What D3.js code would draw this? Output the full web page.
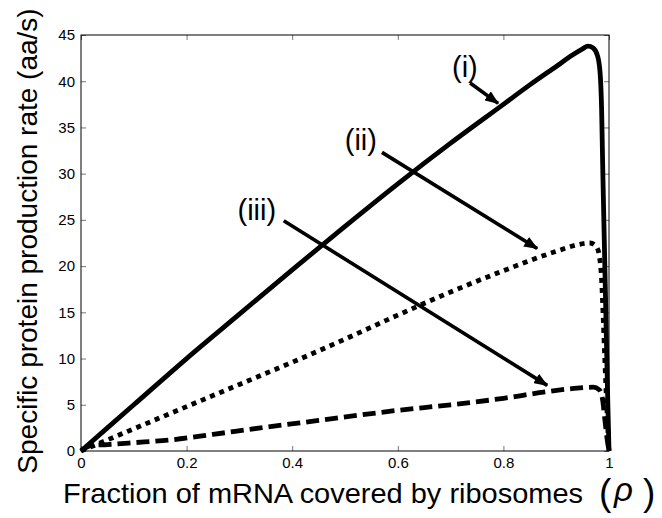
<!DOCTYPE html>
<html>
<head>
<meta charset="utf-8">
<script src="https://cdn.jsdelivr.net/npm/d3@7"></script>
<style>
  html, body { margin: 0; padding: 0; background: #fff; }
  svg { display: block; }
  text { font-family: "Liberation Sans", Arial, Helvetica, sans-serif; fill: #000; }
</style>
</head>
<body>
<svg id="chart" width="662" height="518"></svg>
<script>
// Fraction of mRNA covered by ribosomes (rho) and production rates (aa/s)
const rhoI   = [0, 0.1, 0.2, 0.3, 0.4, 0.5, 0.6, 0.7, 0.8, 0.85, 0.9, 0.93, 0.95, 0.96, 0.97, 0.978, 0.983, 0.986, 0.988, 0.991, 0.994, 0.997, 1.0];
const rateI  = [0, 5.0, 10.0, 14.8, 19.6, 24.3, 28.9, 33.3, 37.5, 39.6, 41.6, 42.8, 43.5, 43.8, 43.6, 42.8, 41.0, 37.0, 31.0, 23.0, 15.0, 7.0, 0];

const rhoII  = [0, 0.1, 0.2, 0.3, 0.4, 0.5, 0.6, 0.7, 0.8, 0.9, 0.94, 0.964, 0.976, 0.982, 0.986, 0.989, 0.992, 0.996, 1.0];
const rateII = [0, 2.4, 4.8, 7.2, 9.6, 12.1, 14.7, 17.2, 19.5, 21.6, 22.3, 22.5, 22.1, 21.0, 18.5, 14.5, 10.0, 4.5, 0];

const rhoIII  = [0, 0.02, 0.05, 0.1, 0.17, 0.25, 0.34, 0.45, 0.6, 0.7, 0.8, 0.88, 0.94, 0.97, 0.982, 0.988, 0.992, 0.996, 1.0];
const rateIII = [0, 0.6, 0.7, 0.9, 1.2, 1.8, 2.5, 3.3, 4.4, 5.0, 5.7, 6.4, 6.8, 6.9, 6.6, 5.5, 3.5, 1.5, 0];

const xTicks = [0, 0.2, 0.4, 0.6, 0.8, 1];
const xTickLabels = ["0", "0.2", "0.4", "0.6", "0.8", "1"];
const yTicks = [0, 5, 10, 15, 20, 25, 30, 35, 40, 45];

// Curve labels: text, anchor point of the label, and the (rho, rate) the arrow points to
const labelNames = ["(i)", "(ii)", "(iii)"];
const labelAt    = [[0.727, 40.5], [0.53, 32.6], [0.333, 25.0]];
const arrowFrom  = [[0.737, 39.8], [0.57, 32.3], [0.384, 24.9]];
const arrowTo    = [[0.79, 37.6], [0.864, 21.9], [0.883, 7.1]];

const margin = { left: 81, right: 53, top: 35, bottom: 67 };
const W = 662, H = 518;
const svg = d3.select("#chart");

const x = d3.scaleLinear().domain([0, 1]).range([margin.left, W - margin.right]);
const y = d3.scaleLinear().domain([0, 45]).range([H - margin.bottom, margin.top]);

const defs = svg.append("defs");
defs.append("marker")
  .attr("id", "head")
  .attr("viewBox", "0 0 14 11")
  .attr("refX", 13).attr("refY", 5.5)
  .attr("markerWidth", 14).attr("markerHeight", 11)
  .attr("markerUnits", "userSpaceOnUse")
  .attr("orient", "auto")
  .append("path").attr("d", "M0,0 L14,5.5 L0,11 Z").attr("fill", "#000");

// Axes box with inward ticks on all sides
const tickLen = 5;
const axisBottom = d3.axisBottom(x).tickValues(xTicks).tickSize(-tickLen).tickPadding(6)
  .tickFormat((d, i) => xTickLabels[i]);
const axisTop = d3.axisTop(x).tickValues(xTicks).tickSize(-tickLen).tickFormat("");
const axisLeft = d3.axisLeft(y).tickValues(yTicks).tickSize(-tickLen).tickPadding(6);
const axisRight = d3.axisRight(y).tickValues(yTicks).tickSize(-tickLen).tickFormat("");

function styleAxis(g, size) {
  g.select(".domain").remove();
  g.selectAll(".tick line").attr("stroke", "#777").attr("stroke-width", 1);
  g.selectAll(".tick text").attr("font-size", size).attr("fill", "#000");
}
svg.append("g").attr("transform", `translate(0,${y(0)})`).call(axisBottom).call(styleAxis, 15);
svg.append("g").attr("transform", `translate(0,${y(45)})`).call(axisTop).call(styleAxis, 15);
svg.append("g").attr("transform", `translate(${x(0)},0)`).call(axisLeft).call(styleAxis, 15);
svg.append("g").attr("transform", `translate(${x(1)},0)`).call(axisRight).call(styleAxis, 15);

svg.append("rect")
  .attr("x", x(0)).attr("y", y(45))
  .attr("width", x(1) - x(0)).attr("height", y(0) - y(45))
  .attr("fill", "none").attr("stroke", "#000").attr("stroke-width", 1);

// Curves
const line = d3.line().x(d => x(d[0])).y(d => y(d[1])).curve(d3.curveMonotoneX);
const series = [
  { rho: rhoI, rate: rateI, dash: null },
  { rho: rhoII, rate: rateII, dash: "5,5" },
  { rho: rhoIII, rate: rateIII, dash: "13,6" }
];
series.forEach(s => {
  svg.append("path")
    .datum(d3.zip(s.rho, s.rate))
    .attr("d", line)
    .attr("fill", "none")
    .attr("stroke", "#000")
    .attr("stroke-width", 4.8)
    .attr("stroke-linejoin", "round")
    .attr("stroke-dasharray", s.dash);
});

// Labels and arrows
labelNames.forEach((name, i) => {
  svg.append("text")
    .attr("x", x(labelAt[i][0])).attr("y", y(labelAt[i][1]))
    .attr("text-anchor", "middle")
    .attr("font-size", 29)
    .text(name);
  svg.append("line")
    .attr("x1", x(arrowFrom[i][0])).attr("y1", y(arrowFrom[i][1]))
    .attr("x2", x(arrowTo[i][0])).attr("y2", y(arrowTo[i][1]))
    .attr("stroke", "#000").attr("stroke-width", 3.6)
    .attr("marker-end", "url(#head)");
});

// Axis titles
svg.append("text")
  .attr("transform", `translate(37,${(y(0) + y(45)) / 2 - 2}) rotate(-90)`)
  .attr("text-anchor", "middle")
  .attr("font-size", 28)
  .text("Specific protein production rate (aa/s)");

svg.append("text")
  .attr("x", 63).attr("y", 503)
  .attr("font-size", 28.5)
  .attr("textLength", 520)
  .attr("lengthAdjust", "spacingAndGlyphs")
  .text("Fraction of mRNA covered by ribosomes");
svg.append("text").attr("x", 599).attr("y", 505).attr("font-size", 37).text("(");
svg.append("text").attr("x", 614).attr("y", 501)
  .attr("font-family", "'DejaVu Serif', serif").attr("font-style", "italic")
  .attr("font-size", 33).text("ρ");
svg.append("text").attr("x", 643).attr("y", 505).attr("font-size", 37).text(")");
</script>
</body>
</html>
